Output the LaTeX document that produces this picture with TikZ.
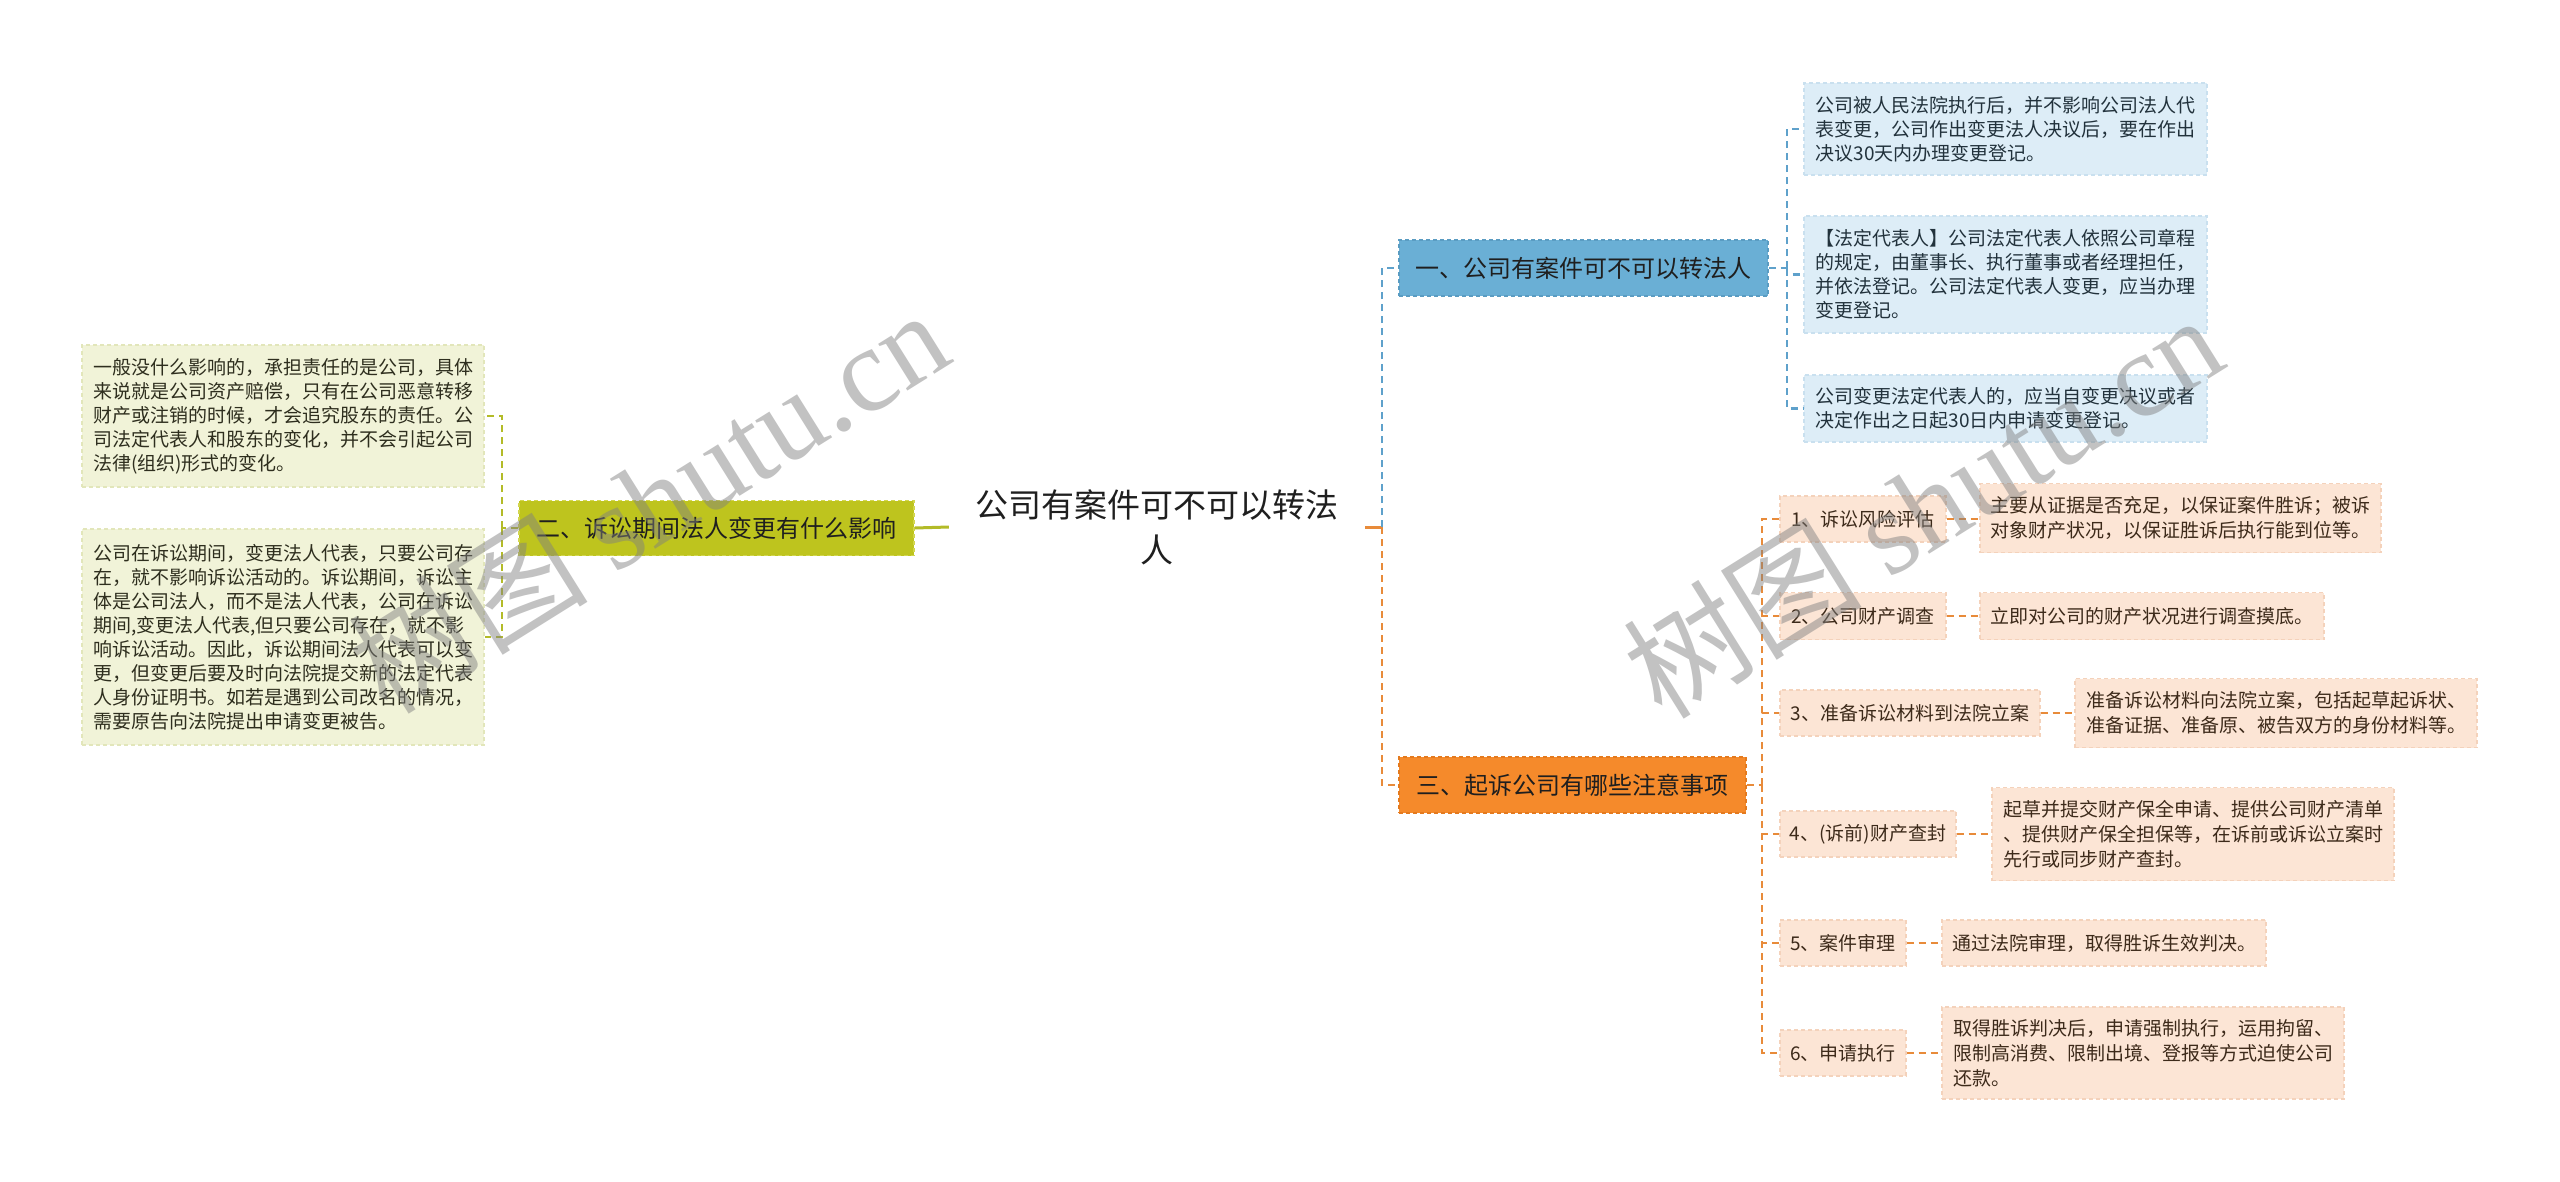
\documentclass[tikz,border=0pt]{standalone}
\usepackage{fontspec}
\setmainfont{Noto Sans CJK SC}
\newfontfamily\wmserif{Liberation Serif}
\pgfdeclarelayer{bg}
\pgfsetlayers{bg,main}
\definecolor{centerfill}{HTML}{EEEDE6}
\definecolor{olivefill}{HTML}{BEC41E}
\definecolor{olivedraw}{HTML}{D2D64E}
\definecolor{oliveleaf}{HTML}{F1F3D8}
\definecolor{oliveleafdraw}{HTML}{E2E6BA}
\definecolor{olivetext}{HTML}{2E2E1E}
\definecolor{oliveline}{HTML}{B3BB28}
\definecolor{bluefill}{HTML}{6AAFD5}
\definecolor{bluedraw}{HTML}{5A9CC2}
\definecolor{blueleaf}{HTML}{DDEDF7}
\definecolor{blueleafdraw}{HTML}{C9E0EF}
\definecolor{bluetext}{HTML}{22323C}
\definecolor{blueline}{HTML}{5EA1CB}
\definecolor{orangefill}{HTML}{F58A2B}
\definecolor{orangedraw}{HTML}{E47A1E}
\definecolor{orangeleaf}{HTML}{FCE5D5}
\definecolor{orangeleafdraw}{HTML}{F4D2BB}
\definecolor{orangetext}{HTML}{3D2A1A}
\definecolor{orangeline}{HTML}{E88B3A}
\begin{document}
\begin{tikzpicture}[x=1pt,y=-1pt,
  box/.style={inner sep=0pt, align=left, anchor=center, line width=1.2pt, dash pattern=on 4pt off 3pt},
  topic/.style={box, font=\fontsize{24}{30}\selectfont, text=black!88, minimum height=56pt},
  leafL/.style={box, fill=oliveleaf, draw=oliveleafdraw, text=olivetext, font=\fontsize{19}{24}\selectfont},
  leafB/.style={box, fill=blueleaf, draw=blueleafdraw, text=bluetext, font=\fontsize{19}{24}\selectfont},
  leafO/.style={box, fill=orangeleaf, draw=orangeleafdraw, text=orangetext, font=\fontsize{19}{25}\selectfont},
  dline/.style={line width=2.5pt, dash pattern=on 7pt off 5pt},
  wm/.style={text=gray, text opacity=0.48, font=\fontsize{120}{130}\selectfont, inner sep=0pt}
]
\useasboundingbox (0,0) rectangle (2560,1181);
\fill[white] (0,0) rectangle (2560,1181);

% central topic
\node[inner sep=0pt, minimum width=416pt, minimum height=123pt, align=center,
      font=\fontsize{33}{45}\selectfont, text=black!88] (c) at (1157,527)
      {公司有案件可不可以转法\\人};
\begin{pgfonlayer}{bg}
\fill[centerfill] ([xshift=11pt]c.north west) -- ([xshift=-12pt]c.north east) -- (c.east)
  -- ([xshift=-12pt]c.south east) -- ([xshift=11pt]c.south west) -- (c.west) -- cycle;
\end{pgfonlayer}

% left branch
\node[topic, fill=olivefill, draw=olivedraw, minimum width=395pt, minimum height=55pt] (n2) at (716.5,528)
  {二、诉讼期间法人变更有什么影响};
\node[leafL, minimum width=402pt, minimum height=142pt] (la) at (283,416)
  {一般没什么影响的，承担责任的是公司，具体\\来说就是公司资产赔偿，只有在公司恶意转移\\财产或注销的时候，才会追究股东的责任。公\\司法定代表人和股东的变化，并不会引起公司\\法律(组织)形式的变化。};
\node[leafL, minimum width=402pt, minimum height=216pt] (lb) at (283,637)
  {公司在诉讼期间，变更法人代表，只要公司存\\在，就不影响诉讼活动的。诉讼期间，诉讼主\\体是公司法人，而不是法人代表，公司在诉讼\\期间,变更法人代表,但只要公司存在，就不影\\响诉讼活动。因此，诉讼期间法人代表可以变\\更，但变更后要及时向法院提交新的法定代表\\人身份证明书。如若是遇到公司改名的情况，\\需要原告向法院提出申请变更被告。};

% right branch one
\node[topic, fill=bluefill, draw=bluedraw, minimum width=369pt] (n1) at (1583.5,268)
  {一、公司有案件可不可以转法人};
\node[leafB, minimum width=403pt, minimum height=92pt] (L1) at (2005.5,129)
  {公司被人民法院执行后，并不影响公司法人代\\表变更，公司作出变更法人决议后，要在作出\\决议30天内办理变更登记。};
\node[leafB, minimum width=403pt, minimum height=117pt] (L2) at (2005.5,274.5)
  {【法定代表人】公司法定代表人依照公司章程\\的规定，由董事长、执行董事或者经理担任，\\并依法登记。公司法定代表人变更，应当办理\\变更登记。};
\node[leafB, minimum width=403pt, minimum height=67pt] (L3) at (2005.5,408.5)
  {公司变更法定代表人的，应当自变更决议或者\\决定作出之日起30日内申请变更登记。};

% right branch three
\node[topic, fill=orangefill, draw=orangedraw, minimum width=347pt] (n3) at (1572.5,785)
  {三、起诉公司有哪些注意事项};
\node[leafO, minimum width=166pt, minimum height=46pt] (C1) at (1863,519) {1、诉讼风险评估};
\node[leafO, minimum width=401pt, minimum height=69pt] (D1) at (2180.5,518)
  {主要从证据是否充足，以保证案件胜诉；被诉\\对象财产状况，以保证胜诉后执行能到位等。};
\node[leafO, minimum width=166pt, minimum height=47pt] (C2) at (1863,616) {2、公司财产调查};
\node[leafO, minimum width=344pt, minimum height=47pt] (D2) at (2152,616)
  {立即对公司的财产状况进行调查摸底。};
\node[leafO, minimum width=260pt, minimum height=46pt] (C3) at (1910,713) {3、准备诉讼材料到法院立案};
\node[leafO, minimum width=402pt, minimum height=69pt] (D3) at (2276,713)
  {准备诉讼材料向法院立案，包括起草起诉状、\\准备证据、准备原、被告双方的身份材料等。};
\node[leafO, minimum width=176pt, minimum height=46pt] (C4) at (1868,834) {4、(诉前)财产查封};
\node[leafO, minimum width=402pt, minimum height=93pt] (D4) at (2193,834)
  {起草并提交财产保全申请、提供公司财产清单\\、提供财产保全担保等，在诉前或诉讼立案时\\先行或同步财产查封。};
\node[leafO, minimum width=126pt, minimum height=46pt] (C5) at (1843,943) {5、案件审理};
\node[leafO, minimum width=324pt, minimum height=46pt] (D5) at (2104,943)
  {通过法院审理，取得胜诉生效判决。};
\node[leafO, minimum width=126pt, minimum height=46pt] (C6) at (1843,1053) {6、申请执行};
\node[leafO, minimum width=402pt, minimum height=92pt] (D6) at (2143,1053)
  {取得胜诉判决后，申请强制执行，运用拘留、\\限制高消费、限制出境、登报等方式迫使公司\\还款。};

% connectors
\coordinate (b2) at (502,528);
\coordinate (b0) at (1382,527);
\coordinate (b1) at (1787,268);
\coordinate (b3) at (1762,785);

\draw[oliveline, line width=3pt] (c.west) -- (n2.east);
\draw[oliveline, dline] (n2.west) -- (b2);
\draw[oliveline, dline] (b2) |- (la.east);
\draw[oliveline, dline] (b2) |- (lb.east);

\draw[orangeline, line width=3pt] (c.east) -- (b0);
\draw[blueline, dline] (b0) |- (n1.west);
\draw[orangeline, dline] (b0) |- (n3.west);

\draw[blueline, dline] (n1.east) -- (b1);
\foreach \k in {L1,L2,L3} { \draw[blueline, dline] (b1) |- (\k.west); }

\draw[orangeline, dline] (n3.east) -- (b3);
\foreach \k in {C1,C2,C3,C4,C5,C6} { \draw[orangeline, dline] (b3) |- (\k.west); }
\foreach \k/\d in {C1/D1,C2/D2,C3/D3,C4/D4,C5/D5,C6/D6} {
  \draw[orangeline, dline] (\k.east) -- (\k.east -| \d.west);
}

% watermarks
\node[wm, rotate=32] (wm1) at (648,500) {树图 {\wmserif shutu.cn}};
\node[wm, rotate=32] (wm2) at (1922,505) {树图 {\wmserif shutu.cn}};
\end{tikzpicture}
\end{document}
